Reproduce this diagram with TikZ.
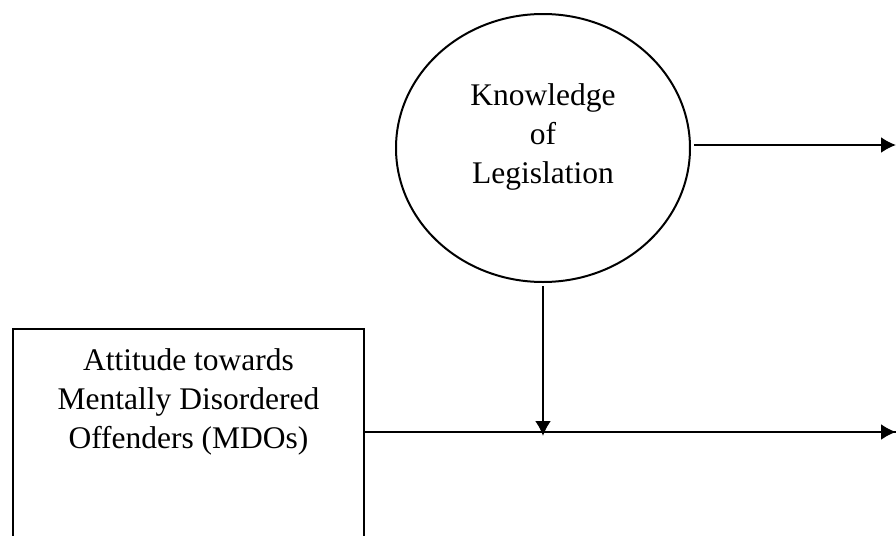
\documentclass[tikz,border=0pt]{standalone}
\usepackage{fontspec}
\setmainfont{Liberation Serif}
\usetikzlibrary{positioning,shapes.geometric,arrows.meta}
\tikzset{
    link/.style={line width=1pt,-{Latex[length=7.5pt,width=8pt]}},
    txt/.style={align=center,inner sep=0pt,font=\fontsize{15.75}{19.5}\selectfont}
}
\begin{document}
\begin{tikzpicture}[x=0.5pt,y=-0.5pt]
            \useasboundingbox (0,0) rectangle (896,536);
            \node[draw,line width=1pt,ellipse,minimum width=147pt,minimum height=134pt,inner sep=0pt] (know) at (543,148) {};
            \node[txt] (knowtext) at (543,137) {Knowledge\\of\\Legislation};
            \node[draw,line width=1pt,anchor=north west,minimum width=175.5pt,minimum height=108pt,inner sep=0pt] (mdo) at (12,328) {};
            \node[txt,below=10.2pt of mdo.north] (mdotext) {Attitude towards\\Mentally Disordered\\Offenders (MDOs)};
            \coordinate (outA) at (896,145);
            \coordinate (outB) at (896,432);
            \draw[link,shorten <=1.5pt] (know.east |- outA) -- (outA);
            \draw[line width=1pt] (mdo.east |- outB) -- (outB);
            \draw[link] ([yshift=-1.5pt]know.south) -- ([yshift=-2pt]know.south |- outB);
            \draw[link] ([xshift=-2pt]outB) -- (outB);
        \end{tikzpicture}
\end{document}
